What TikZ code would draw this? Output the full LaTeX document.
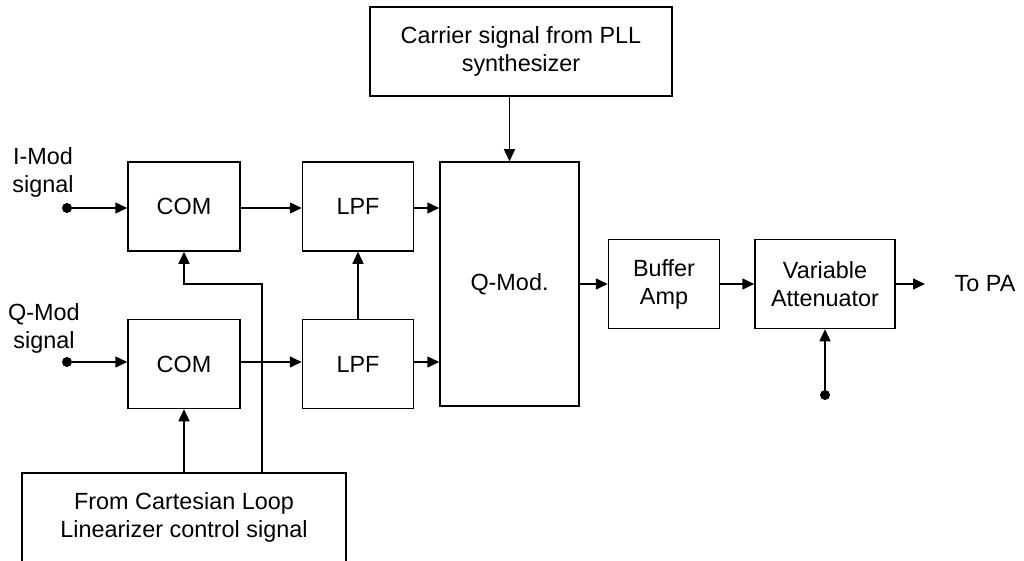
\documentclass[tikz,border=0pt]{standalone}
\usepackage{fontspec}
\setmainfont{Liberation Sans}
\usetikzlibrary{positioning,arrows.meta}

\begin{document}
\begin{tikzpicture}[
        x=1pt, y=-1pt,
        every node/.style={font=\fontsize{23.4}{28}\selectfont},
        block/.style={draw, line width=1.5pt, align=center,
                      minimum height=89pt, minimum width=112pt, inner sep=2pt},
        arrow/.style={-{Triangle[length=12pt,width=11pt]}, line width=1.5pt},
        dot/.style={circle, fill, inner sep=0pt, minimum size=10pt}
    ]
        \useasboundingbox (0,0) rectangle (1024,561);

        % blocks
        \node[block] (comi) at (184,206.5) {COM};
        \node[block, minimum width=111pt, right=61pt of comi] (lpfi) {LPF};
        \node[block, below=67pt of comi] (comq) {COM};
        \node[block, minimum width=111pt, below=67pt of lpfi] (lpfq) {LPF};
        \node[block, minimum width=139pt, minimum height=244pt] (qmod) at (509.5,284) {Q-Mod.};
        \node[block, minimum width=111pt, right=28pt of qmod] (buf) {Buffer\\Amp};
        \node[block, minimum width=140pt, right=34pt of buf] (att) {Variable\\Attenuator};
        \node[block, minimum width=302pt] (carrier) at (521,51.5) {Carrier signal from PLL\\synthesizer};
        \node[block, minimum width=324pt] (ctrl) at (184,517.5) {From Cartesian Loop\\Linearizer control signal};

        % inputs and output
        \node[align=center] (imod) at (43,172) {I-Mod\\signal};
        \node[align=center] (qmodin) at (44,328) {Q-Mod\\signal};
        \node (topa) at (985,284) {To PA};
        \node[dot] (idot) at (67,208) {};
        \node[dot] (qdot) at (67,362) {};
        \node[dot] (adot) at (att.south |- 0,395) {};
        \coordinate (pa) at (925,284);
        \coordinate (bend) at (262,284);

        % connectors
        \draw[arrow] (idot) -- (comi.west |- idot);
        \draw[arrow] (comi.east |- idot) -- (lpfi.west |- idot);
        \draw[arrow] (lpfi.east |- idot) -- (qmod.west |- idot);
        \draw[arrow] (qdot) -- (comq.west |- qdot);
        \draw[arrow] (comq.east |- qdot) -- (lpfq.west |- qdot);
        \draw[arrow] (lpfq.east |- qdot) -- (qmod.west |- qdot);
        \draw[arrow] (lpfq) -- (lpfi);
        \draw[arrow] (qmod.north |- carrier.south) -- (qmod.north);
        \draw[arrow] (qmod.east |- buf) -- (buf);
        \draw[arrow] (buf) -- (att);
        \draw[arrow] (att) -- (pa);
        \draw[arrow] (adot) -- (att.south);
        \draw[arrow] (ctrl.north -| comq) -- (comq.south);
        \draw[arrow] (ctrl.north -| bend) -- (bend) -| (comi.south);
\end{tikzpicture}
\end{document}
